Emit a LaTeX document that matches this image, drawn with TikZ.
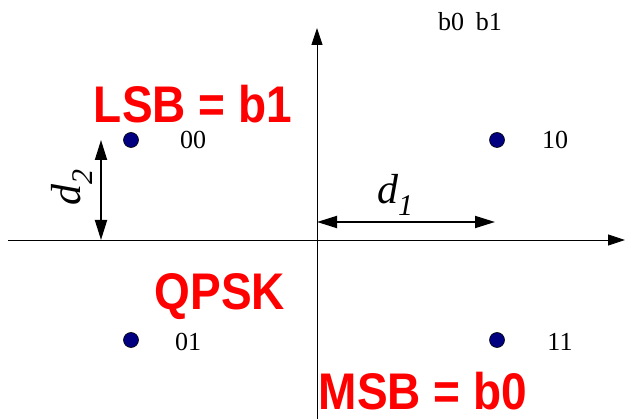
\documentclass[tikz,border=0pt]{standalone}
\usepackage{fontspec}
\setmainfont{Liberation Serif}
\setsansfont{Liberation Sans}
\usetikzlibrary{arrows.meta, positioning}

\newcommand{\tall}[1]{\scalebox{1}[1.12]{#1}}

\begin{document}
\begin{tikzpicture}[
    x=1pt, y=-1pt,
    point/.style={circle, draw=black, fill=blue!50!black, inner sep=0pt, minimum size=15pt, line width=0.6pt},
    bits/.style={inner sep=0pt, font=\fontsize{26}{26}\selectfont},
    tag/.style={inner sep=0pt, text=red, font=\fontsize{46}{46}\selectfont\sffamily\bfseries},
    axis/.style={-{Triangle[length=17pt, width=11pt]}, line width=0.8pt},
    dist/.style={{Triangle[length=20pt, width=12pt]}-{Triangle[length=20pt, width=12pt]}, line width=1.8pt},
    dlabel/.style={inner sep=0pt, font=\fontsize{42}{42}\selectfont\itshape}
]
    \useasboundingbox (0,0) rectangle (626,419);

    % Axes
    \coordinate (o) at (317,240);
    \coordinate (xl) at (8,240);
    \coordinate (xr) at (625,240);
    \coordinate (yb) at (317,419);
    \coordinate (yt) at (317,28);
    \draw[axis] (xl) -- (xr);
    \draw[axis] (yb) -- (yt);

    % Constellation points
    \node[point] (s00) at (131,140) {};
    \node[point] (s10) at (497,140) {};
    \node[point] (s01) at (131,340) {};
    \node[point] (s11) at (497,340) {};

    % Bit labels
    \node[bits] (l00) at (193,140) {00};
    \node[bits] (l10) at (555,140) {10};
    \node[bits] (l01) at (188,342) {01};
    \node[bits] (l11) at (560,342) {11};
    \node[bits] (order) at (470,22) {b0\hspace{0.45em}b1};

    % Distances
    \coordinate (d1a) at (317,222);
    \coordinate (d1b) at (495,222);
    \draw[dist] (d1a) -- (d1b);
    \node[dlabel] (d1) at (395,195) {d\raisebox{-0.3em}{\fontsize{30}{30}\selectfont 1}};
    \coordinate (d2a) at (101,140);
    \coordinate (d2b) at (101,240);
    \draw[dist] (d2a) -- (d2b);
    \node[dlabel, rotate=90] (d2) at (72,188) {d\raisebox{-0.3em}{\fontsize{30}{30}\selectfont 2}};

    % Red tags
    \node[tag] (lsb) at (193,104) {\tall{LSB = b1}};
    \node[tag] (qpsk) at (220,297) {\tall{QPSK}};
    \node[tag] (msb) at (423,391) {\tall{MSB = b0}};
\end{tikzpicture}
\end{document}
